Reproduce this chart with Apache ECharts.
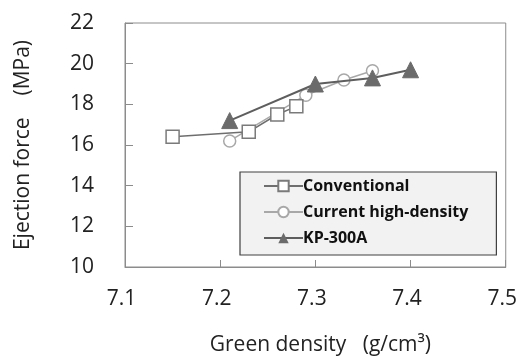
<!DOCTYPE html>
<html>
<head>
<meta charset="utf-8">
<script src="https://cdn.jsdelivr.net/npm/echarts@6/dist/echarts.min.js"></script>
<style>
  html, body { margin: 0; padding: 0; background: #fff; }
  #chart { width: 520px; height: 361px; }
</style>
</head>
<body>
<div id="chart"></div>
<script>
// 数据 (green density g/cm3, ejection force MPa)
var conventionalX = [7.15, 7.23, 7.26, 7.28]
var conventionalY = [16.4, 16.65, 17.5, 17.9]
var currentX = [7.21, 7.29, 7.33, 7.36]
var currentY = [16.2, 18.45, 19.2, 19.65]
var kpX = [7.21, 7.30, 7.36, 7.40]
var kpY = [17.2, 19.0, 19.3, 19.7]
var seriesNames = ['Conventional', 'Current high-density', 'KP-300A']

function pairs(xs, ys) {
  return xs.map(function (x, i) { return [x, ys[i]] })
}

var font = '"Open Sans", "Noto Sans", sans-serif'
var chart = echarts.init(document.getElementById('chart'))

chart.setOption({
  backgroundColor: '#fff',
  animation: false,
  textStyle: { fontFamily: font },
  grid: {
    left: 125,
    right: 14,
    top: 23,
    bottom: 90,
    show: true,
    borderColor: '#8c8c8c',
    borderWidth: 1
  },
  legend: {
    orient: 'vertical',
    left: 240,
    top: 172,
    padding: [5, 28, 8, 23],
    itemGap: 8,
    itemWidth: 39,
    itemHeight: 13,
    backgroundColor: '#f2f2f2',
    borderColor: '#404040',
    borderWidth: 1.2,
    data: seriesNames,
    textStyle: { fontSize: 16, lineHeight: 18, fontWeight: 'bold', color: '#111', fontFamily: font, padding: [0, 0, 0, -5] }
  },
  xAxis: {
    type: 'value',
    min: 7.1,
    max: 7.5,
    interval: 0.1,
    name: 'Green density   (g/cm³)',
    nameLocation: 'middle',
    nameGap: 68,
    nameTextStyle: { fontSize: 21, color: '#222', padding: [0, 0, 0, 10] },
    axisLine: { lineStyle: { color: '#8c8c8c' } },
    axisTick: { inside: true, length: 7, lineStyle: { color: '#8c8c8c' } },
    axisLabel: {
      fontSize: 21,
      color: '#222',
      margin: 22,
      padding: [0, 7, 0, 0],
      formatter: function (v) { return v.toFixed(1) }
    },
    splitLine: { show: false }
  },
  yAxis: {
    type: 'value',
    min: 10,
    max: 22,
    interval: 2,
    name: 'Ejection force    (MPa)',
    nameLocation: 'middle',
    nameGap: 91,
    nameTextStyle: { fontSize: 21, color: '#222' },
    axisLine: { show: true, lineStyle: { color: '#8c8c8c' } },
    axisTick: { show: true, inside: true, length: 8, lineStyle: { color: '#8c8c8c' } },
    axisLabel: { fontSize: 21, color: '#222', margin: 31 },
    splitLine: { show: false }
  },
  series: [
    {
      name: seriesNames[0],
      type: 'line',
      data: pairs(conventionalX, conventionalY),
      symbol: 'rect',
      symbolSize: 13,
      lineStyle: { color: '#6e6e6e', width: 1.5 },
      itemStyle: { color: '#fff', borderColor: '#7a7a7a', borderWidth: 1.5 },
      z: 3
    },
    {
      name: seriesNames[1],
      type: 'line',
      data: pairs(currentX, currentY),
      symbol: 'circle',
      symbolSize: 12,
      lineStyle: { color: '#a8a8a8', width: 1.5 },
      itemStyle: { color: '#fff', borderColor: '#a8a8a8', borderWidth: 1.5 },
      z: 2
    },
    {
      name: seriesNames[2],
      type: 'line',
      data: pairs(kpX, kpY),
      symbol: 'triangle',
      symbolSize: 16,
      lineStyle: { color: '#5e5e5e', width: 2 },
      itemStyle: { color: '#6b6b6b', borderColor: '#6b6b6b' },
      z: 4
    }
  ]
})
</script>
</body>
</html>
